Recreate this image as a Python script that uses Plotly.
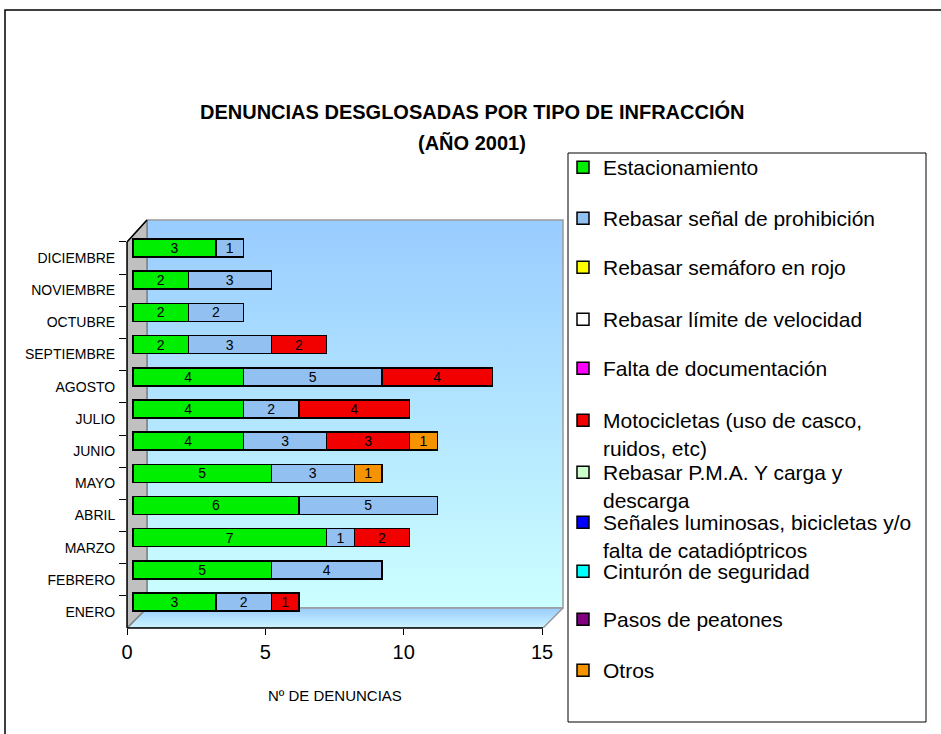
import plotly.graph_objects as go

meses = ["ENERO", "FEBRERO", "MARZO", "ABRIL", "MAYO", "JUNIO", "JULIO",
         "AGOSTO", "SEPTIEMBRE", "OCTUBRE", "NOVIEMBRE", "DICIEMBRE"]

tipos = ["Estacionamiento",
         "Rebasar señal de prohibición",
         "Rebasar semáforo en rojo",
         "Rebasar límite de velocidad",
         "Falta de documentación",
         "Motocicletas (uso de casco,<br>ruidos, etc)",
         "Rebasar P.M.A. Y carga y<br>descarga",
         "Señales luminosas, bicicletas y/o<br>falta de catadióptricos",
         "Cinturón de seguridad",
         "Pasos de peatones",
         "Otros"]

# denuncias por mes (ENERO ... DICIEMBRE)
estacionamiento   = [3, 5, 7, 6, 5, 4, 4, 4, 2, 2, 2, 3]
senal_prohibicion = [2, 4, 1, 5, 3, 3, 2, 5, 3, 2, 3, 1]
semaforo_rojo     = [0, 0, 0, 0, 0, 0, 0, 0, 0, 0, 0, 0]
limite_velocidad  = [0, 0, 0, 0, 0, 0, 0, 0, 0, 0, 0, 0]
falta_documentos  = [0, 0, 0, 0, 0, 0, 0, 0, 0, 0, 0, 0]
motocicletas      = [1, 0, 2, 0, 0, 3, 4, 4, 2, 0, 0, 0]
pma_carga         = [0, 0, 0, 0, 0, 0, 0, 0, 0, 0, 0, 0]
senales_luminosas = [0, 0, 0, 0, 0, 0, 0, 0, 0, 0, 0, 0]
cinturon          = [0, 0, 0, 0, 0, 0, 0, 0, 0, 0, 0, 0]
peatones          = [0, 0, 0, 0, 0, 0, 0, 0, 0, 0, 0, 0]
otros             = [0, 0, 0, 0, 1, 1, 0, 0, 0, 0, 0, 0]

x_ticks = [0, 5, 10, 15]

series = [estacionamiento, senal_prohibicion, semaforo_rojo, limite_velocidad,
          falta_documentos, motocicletas, pma_carga, senales_luminosas,
          cinturon, peatones, otros]
colores = ["#00EE00", "#92C1F1", "#FFFF00", "#FFFFFF", "#FF00FF", "#F20000",
           "#CCFFCC", "#0000FF", "#00FFFF", "#800080", "#F59300"]

FONT = "Liberation Sans, Arial, sans-serif"

# geometria en pixeles del area de trazado (efecto 3D tipo Excel)
L, R, T, B = 127, 565, 218, 628
W, H = R - L, B - T
UX = 27.667          # px por denuncia
UY = 32.18           # px por mes
Y0 = 612             # px del centro de ENERO


def px(x):  # pixel -> paper
    return (x - L) / W


def py(y):
    return (B - y) / H


def dx(x):  # pixel -> eje x frontal
    return (x - L) / UX


def dy(y):  # pixel -> eje y
    return (Y0 - y) / UY


fig = go.Figure()

# paredes y suelo
fig.add_trace(go.Scatter(
    x=[dx(147), dx(563), dx(563), dx(147), dx(147)],
    y=[dy(220), dy(220), dy(608), dy(608), dy(220)],
    mode="lines", fill="toself", line=dict(color="#9A9A9A", width=1.5),
    fillgradient=dict(type="vertical", colorscale=[[0, "#CCFFFF"], [1, "#99CCFF"]]),
    hoverinfo="skip", showlegend=False))
fig.add_trace(go.Scatter(
    x=[dx(127), dx(147), dx(563), dx(543), dx(127)],
    y=[dy(628), dy(608), dy(608), dy(628), dy(628)],
    mode="lines", fill="toself", line=dict(color="#9A9A9A", width=1.5),
    fillgradient=dict(type="vertical", colorscale=[[0, "#CCF4FF"], [1, "#99CCFF"]]),
    hoverinfo="skip", showlegend=False))
fig.add_trace(go.Scatter(
    x=[dx(127), dx(147), dx(147), dx(127), dx(127)],
    y=[dy(242), dy(220), dy(608), dy(628), dy(242)],
    mode="lines", fill="toself", fillcolor="#C0C0C0",
    line=dict(color="#808080", width=1.5),
    hoverinfo="skip", showlegend=False))

# barras apiladas
leyenda_y = [168, 219, 268, 320, 369, 421, 473, 523, 572, 620, 671]
legends = {}
for i, (nombre, vals, color) in enumerate(zip(tipos, series, colores)):
    key = "legend" if i == 0 else f"legend{i + 1}"
    fig.add_trace(go.Bar(
        y=list(range(len(meses))), x=vals, orientation="h", name=nombre,
        marker=dict(color=color, line=dict(color="black", width=1.5)),
        width=0.56, offset=0.03,
        text=[str(v) if v else "" for v in vals],
        textposition="inside", insidetextanchor="middle", textangle=0,
        constraintext="none",
        textfont=dict(size=14, color="black", family=FONT),
        xaxis="x2", yaxis="y", legend=key))
    legends[key] = dict(x=px(563), y=py(leyenda_y[i] - 21), xanchor="left", yanchor="top",
                        valign="top", bgcolor="rgba(0,0,0,0)",
                        font=dict(size=21, color="black", family=FONT))

fig.update_layout(
    width=941, height=734,
    margin=dict(l=L, r=941 - R, t=T, b=734 - B, autoexpand=False),
    paper_bgcolor="white", plot_bgcolor="rgba(0,0,0,0)",
    barmode="stack",
    font=dict(family=FONT, color="black"),
    xaxis=dict(range=[0, dx(R)], tickvals=x_ticks, ticks="outside", ticklen=6,
               tickcolor="black", tickfont=dict(size=20), showgrid=False,
               zeroline=False, showline=False),
    xaxis2=dict(range=[dx(L) - 6 / UX, dx(R) - 6 / UX], overlaying="x", visible=False),
    yaxis=dict(range=[dy(B), dy(T)], tickvals=list(range(len(meses))), ticktext=meses,
               ticks="outside", ticklen=8, tickcolor="rgba(0,0,0,0)",
               tickfont=dict(size=14), showgrid=False, zeroline=False, showline=False,
               minor=dict(tickvals=[i - 0.5 for i in range(len(meses) + 1)],
                          ticks="outside", ticklen=7, tickcolor="black", showgrid=False)),
    **legends,
)

fig.add_annotation(text="<b>DENUNCIAS DESGLOSADAS POR TIPO DE INFRACCIÓN</b>",
                   x=px(472), y=py(111), xref="paper", yref="paper", showarrow=False,
                   xanchor="center", yanchor="middle", font=dict(size=20))
fig.add_annotation(text="<b>(AÑO 2001)</b>",
                   x=px(472), y=py(143), xref="paper", yref="paper", showarrow=False,
                   xanchor="center", yanchor="middle", font=dict(size=20))
fig.add_annotation(text="Nº DE DENUNCIAS",
                   x=px(335), y=py(695), xref="paper", yref="paper", showarrow=False,
                   xanchor="center", yanchor="middle", font=dict(size=15))

# marco exterior, recuadro de leyenda y lineas frontales de los ejes
fig.add_shape(type="rect", xref="paper", yref="paper", x0=px(5), y0=py(10), x1=px(960),
              y1=py(760), line=dict(color="black", width=1.5), layer="below")
fig.add_shape(type="rect", xref="paper", yref="paper", x0=px(568), y0=py(153), x1=px(926),
              y1=py(722), line=dict(color="black", width=1), fillcolor="white", layer="below")
for x0, y0, x1, y1 in [(127, 628, 543, 628), (127, 628, 127, 242), (127, 242, 147, 220)]:
    fig.add_shape(type="line", xref="paper", yref="paper", x0=px(x0), y0=py(y0),
                  x1=px(x1), y1=py(y1), line=dict(color="black", width=1.5))

# sin margen del body para que la figura ocupe la ventana desde (0, 0)
fig.write_html("out.html", config={"displayModeBar": False},
               post_script="document.body.style.margin = '0';")
